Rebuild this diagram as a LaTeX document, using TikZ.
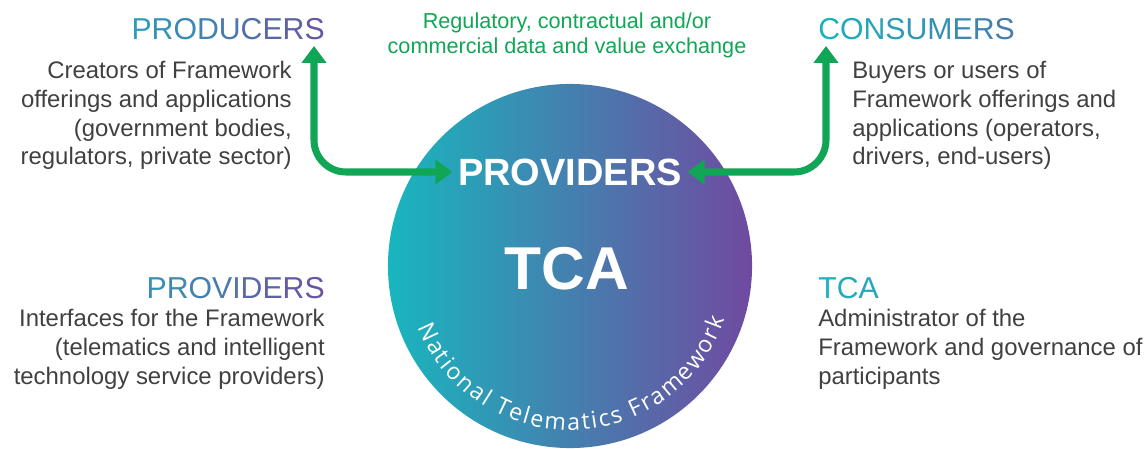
\documentclass[tikz,border=0pt]{standalone}
\usepackage{fontspec}
\setmainfont{Liberation Sans}
\newfontfamily\arcfont{Open Sans}
\usepackage{xcolor}
\usepackage{tikz}
\usetikzlibrary{arrows.meta, decorations.text}

\definecolor{flowgreen}{RGB}{16,166,86}
\definecolor{txtgray}{RGB}{64,64,64}
\definecolor{tcateal}{RGB}{24,182,190}
\definecolor{tcapurple}{RGB}{112,74,160}

% heading letters run from teal towards purple: #1 start share of teal, #2 drop per letter
\newcommand\gradword[3]{\foreach \ch [count=\i] in {#3}{\pgfmathtruncatemacro\pct{#1-(\i-1)*#2}\textcolor{tcateal!\pct!tcapurple}{\ch}}}

\begin{document}
\begin{tikzpicture}[x=0.025cm, y=0.025cm]
\tikzstyle{heading}=[font=\fontsize{21.5}{24}\selectfont, inner sep=0]
\tikzstyle{bodytext}=[font=\fontsize{17}{20.6}\selectfont, text=txtgray, inner sep=0]
\tikzstyle{flow}=[line width=5pt, draw=flowgreen, rounded corners=0.8cm, >={Triangle[length=12pt,width=17pt]}, <->]
\useasboundingbox (0,0) rectangle (1148,448);

%% the framework circle
\shade [left color=tcateal, right color=tcapurple] (570,182) circle (4.55cm);
\path [decorate, decoration={text along path, text align={fit to path}, text color=white,
  text={|\arcfont\fontsize{16.5}{16.5}\selectfont|National Telematics Framework}}]
  (570,182) ++(202:4.1cm) arc (202:341:4.1cm);

\node (provbig) at (570,276) [font=\fontsize{27}{30}\selectfont\bfseries, text=white, inner xsep=4pt, inner ysep=2pt] {PROVIDERS};
\node (tcabig) at (567,179) [font=\fontsize{43}{46}\selectfont\bfseries, text=white] {TCA};

%% the four parties (base anchor sits on the last line)
\node (producers) at (325,408) [heading, anchor=base east] {\gradword{75}{8}{P,R,O,D,U,C,E,R,S}};
\node (prodtext) at (292,283) [bodytext, align=right, anchor=base east] {Creators of Framework\\offerings and applications\\(government bodies,\\regulators, private sector)};

\node (consumers) at (818,408) [heading, anchor=base west] {\gradword{95}{6}{C,O,N,S,U,M,E,R,S}};
\node (constext) at (852,283) [bodytext, align=left, anchor=base west] {Buyers or users of\\Framework offerings and\\applications (operators,\\drivers, end-users)};

\node (providers) at (325,150) [heading, anchor=base east] {\gradword{65}{7}{P,R,O,V,I,D,E,R,S}};
\node (provtext) at (325,64) [bodytext, align=right, anchor=base east] {Interfaces for the Framework\\(telematics and intelligent\\technology service providers)};

\node (tca) at (818,150) [heading, anchor=base west] {\gradword{95}{5}{T,C,A}};
\node (tcatext) at (818,64) [bodytext, align=left, anchor=base west] {Administrator of the\\Framework and governance of\\participants};

\node (exchange) at (567,394) [font=\fontsize{15.4}{17.8}\selectfont, text=flowgreen, align=center, anchor=base, inner sep=0] {Regulatory, contractual and/or\\commercial data and value exchange};

%% exchange arrows
\coordinate (prodtip) at (314,402);
\coordinate (constip) at (826,402);
\draw [flow] (prodtip) |- (provbig.west);
\draw [flow] (constip) |- (provbig.east);
\end{tikzpicture}
\end{document}
